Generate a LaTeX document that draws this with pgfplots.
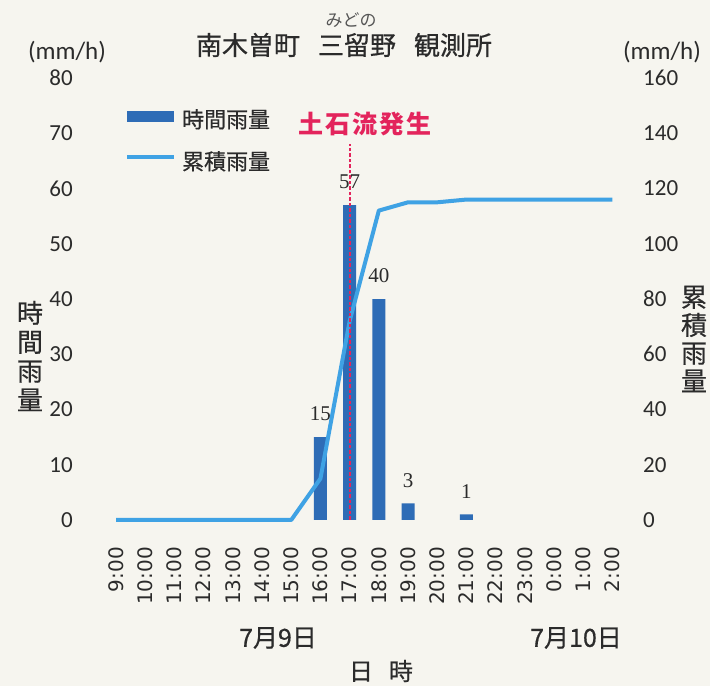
\documentclass[border=0pt]{standalone}
\usepackage{pgfplots}
\pgfplotsset{compat=1.18}
\usepackage{fontspec}
\setmainfont{Carlito}
\newfontfamily\cjk[FakeBold=0.6]{Noto Sans CJK JP}
\newfontfamily\cjkthin{Noto Sans CJK JP}
\newfontfamily\dejavu{DejaVu Sans}
\newfontfamily\numserif{Liberation Serif}
\definecolor{bg}{HTML}{F6F5EF}
\definecolor{barblue}{HTML}{2E6CB6}
\definecolor{lineblue}{HTML}{3FA2E4}
\definecolor{redline}{HTML}{E3245C}
\definecolor{txt}{HTML}{2B2B2B}

\pgfplotstableread{
x cum
0 0
1 0
2 0
3 0
4 0
5 0
6 0
7 15
8 72
9 112
10 115
11 115
12 116
13 116
14 116
15 116
16 116
17 116
}\cumtable

\begin{document}
\begin{tikzpicture}[x=1pt,y=1pt]
\fill[bg] (0,0) rectangle (710,686);
\begin{axis}[
  at={(100pt,166pt)}, anchor=south west,
  width=530pt, height=442pt, scale only axis,
  xmin=-0.548, xmax=17.6, ymin=0, ymax=80,
  axis line style={draw=none}, major tick length=0pt,
  /pgf/number format/assume math mode=true,
  ytick={0,10,...,80}, yticklabel pos=left,
  yticklabel style={font=\fontsize{23}{23}\selectfont, text=txt, anchor=east, inner sep=0pt, xshift=-27pt},
  xtick={0,...,17},
  xticklabels={\mbox{9:00},\mbox{10:00},\mbox{11:00},\mbox{12:00},\mbox{13:00},\mbox{14:00},\mbox{15:00},\mbox{16:00},\mbox{17:00},\mbox{18:00},\mbox{19:00},\mbox{20:00},\mbox{21:00},\mbox{22:00},\mbox{23:00},\mbox{0:00},\mbox{1:00},\mbox{2:00}},
  xticklabel style={font=\dejavu\fontsize{20}{20}\selectfont, text=txt, yshift=-27pt, rotate=90, anchor=east, inner sep=0pt},
  clip=false,
  legend style={draw=none, fill=none, at={(0.047,0.93)}, anchor=north west, inner sep=0pt,
    font=\cjk\fontsize{22}{22}\selectfont, text=txt, row sep=22pt,
    /tikz/every odd column/.append style={column sep=6pt}, nodes={inner sep=0pt}},
  legend cell align=left,
]
\addplot[ybar, bar width=13pt, fill=barblue, draw=none,
  nodes near coords,
  every node near coord/.append style={font=\numserif\fontsize{21}{21}\selectfont, text=txt, anchor=south, inner sep=0pt, yshift=16pt},
  legend image code/.code={\fill[barblue] (0pt,-3pt) rectangle (47pt,8pt);}]
  coordinates {(7,15) (8,57) (9,40) (10,3) (12,1)};
\addlegendentry{時間雨量}
\addlegendimage{legend image code/.code={\draw[lineblue, line width=4pt] (0pt,4pt) -- (47pt,4pt);}}
\addlegendentry{累積雨量}
\end{axis}
\begin{axis}[
  at={(100pt,166pt)}, anchor=south west,
  width=530pt, height=442pt, scale only axis,
  xmin=-0.548, xmax=17.6, ymin=0, ymax=160,
  axis line style={draw=none}, major tick length=0pt,
  /pgf/number format/assume math mode=true,
  xtick=\empty,
  ytick={0,20,...,160}, yticklabel pos=right,
  yticklabel style={font=\fontsize{23}{23}\selectfont, text=txt, anchor=west, inner sep=0pt, xshift=13pt},
  clip=false,
]
\addplot[lineblue, line width=4pt, line join=round] table[x=x, y=cum] {\cumtable};
\addplot[redline, line width=2.2pt, dash pattern=on 3.5pt off 2pt] coordinates {(8,0) (8,136)};
\end{axis}
\node[font=\cjkthin\fontsize{17}{17}\selectfont, text=txt!80] at (351,666) {みどの};
\node[font=\cjk\fontsize{26}{26}\selectfont, text=txt] at (344,641) {南木曽町\hspace{18pt}三留野\hspace{18pt}観測所};
\node[font=\fontsize{25}{25}\selectfont, text=txt] at (67,634) {(mm/h)};
\node[font=\fontsize{25}{25}\selectfont, text=txt] at (662,634) {(mm/h)};
\node[align=center, font=\cjk\fontsize{26}{29}\selectfont, text=txt] at (30,330) {時\\間\\雨\\量};
\node[align=center, font=\cjk\fontsize{26}{28}\selectfont, text=txt] at (694,347) {累\\積\\雨\\量};
\node[font=\cjk\fontsize{25}{25}\selectfont, text=txt] at (278,48) {7月9日};
\node[font=\cjk\fontsize{25}{25}\selectfont, text=txt] at (576,48) {7月10日};
\node[font=\cjk\fontsize{24}{24}\selectfont, text=txt] at (381,15) {日\hspace{16pt}時};
\node[font=\cjkthin\bfseries\fontsize{25}{25}\selectfont, text=redline] at (365,562) {土\hspace{2pt}石\hspace{2pt}流\hspace{2pt}発\hspace{2pt}生};
\pgfresetboundingbox
\useasboundingbox (0,0) rectangle (710,686);
\end{tikzpicture}
\end{document}
